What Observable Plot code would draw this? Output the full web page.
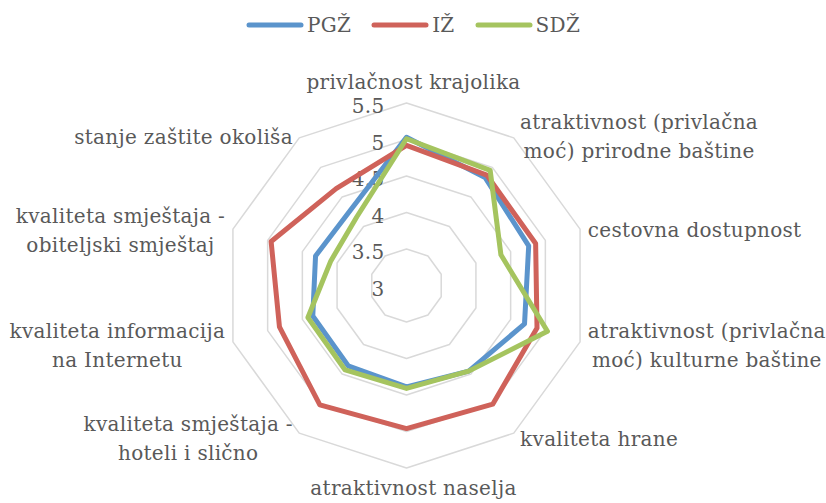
<!DOCTYPE html>
<html><head><meta charset="utf-8">
<script src="https://cdn.jsdelivr.net/npm/d3@7"></script>
<script src="https://cdn.jsdelivr.net/npm/@observablehq/plot@0.6"></script>
<style>
body{margin:0;background:#fff;}
#legend{height:50px;display:flex;justify-content:center;align-items:center;font-family:"DejaVu Serif",serif;font-size:20px;letter-spacing:0.3px;color:#595959;}
#legend .item{display:flex;align-items:center;margin:0 10px;}
#legend svg{margin-right:3px;}
#chart svg{display:block;}
</style></head><body>
<div id="legend"></div>
<div id="chart"></div>
<script>
const categories = [
  "privlačnost krajolika",
  "atraktivnost (privlačna\nmoć) prirodne baštine",
  "cestovna dostupnost",
  "atraktivnost (privlačna\nmoć) kulturne baštine",
  "kvaliteta hrane",
  "atraktivnost naselja",
  "kvaliteta smještaja -\nhoteli i slično",
  "kvaliteta informacija\nna Internetu",
  "kvaliteta smještaja -\nobiteljski smještaj",
  "stanje zaštite okoliša"
];
const seriesNames = ["PGŽ", "IŽ", "SDŽ"];
const valuesPGZ = [5.03, 4.83, 4.76, 4.70, 4.45, 4.39, 4.36, 4.35, 4.31, 4.29];
const valuesIZ  = [4.92, 4.87, 4.86, 4.88, 5.01, 4.96, 5.02, 4.83, 4.95, 4.64];
const valuesSDZ = [5.01, 4.95, 4.36, 5.03, 4.45, 4.41, 4.43, 4.42, 4.09, 4.16];
const tickValues = [3, 3.5, 4, 4.5, 5, 5.5];
const seriesColors = ["#5b94cc", "#cf625a", "#a5c45f"];

// layout
const W = 826, H = 453, PX = 73, CX = 406, CY = 235;
const rMin = 3, rMax = 5.5;
const FONT = '"DejaVu Serif", serif';
const FS = 20, LS = 0.3;
const TXT = "#595959";

const n = categories.length;
const ang = i => i * 2 * Math.PI / n;
const px = (i, v) => (v - rMin) * Math.sin(ang(i));
const py = (i, v) => (v - rMin) * Math.cos(ang(i));

const allValues = [valuesPGZ, valuesIZ, valuesSDZ];
const rows = seriesNames.flatMap((s, k) => categories.map((c, i) => ({series: s, i, value: allValues[k][i]})));
const rings = tickValues.filter(t => t > rMin).flatMap(t => categories.map((c, i) => ({ring: t, i})));

// measure label widths
const ctx = document.createElement("canvas").getContext("2d");
ctx.font = `${FS}px ${FONT}`;
const halfW = s => d3.max(s.split("\n"), l => ctx.measureText(l).width + LS * l.length) / 2;
const labelR = (rMax - rMin) + 4 / PX;
const pad = 4 / PX;
const side = i => { const s = Math.sin(ang(i)); return s > 0.01 ? 1 : s < -0.01 ? -1 : 0; };
const lx = (d, i) => labelR * Math.sin(ang(i)) + side(i) * (pad + halfW(d) / PX);
const ly = (d, i) => labelR * Math.cos(ang(i));
const isTop = (d, i) => side(i) === 0 && Math.cos(ang(i)) > 0;
const isBottom = (d, i) => side(i) === 0 && Math.cos(ang(i)) < 0;
const isSide = (d, i) => side(i) !== 0;

const chart = Plot.plot({
  width: W, height: H,
  margin: 0,
  x: {domain: [-CX / PX, (W - CX) / PX], axis: null},
  y: {domain: [-(H - CY) / PX, CY / PX], axis: null},
  color: {domain: seriesNames, range: seriesColors},
  style: {fontFamily: FONT, background: "#fff", letterSpacing: LS + "px"},
  marks: [
    Plot.line(rings, {x: d => px(d.i, d.ring), y: d => py(d.i, d.ring), z: "ring", stroke: "#d9d9d9", strokeWidth: 1.5, curve: "linear-closed"}),
    Plot.text(tickValues, {x: 0, y: d => d - rMin, text: d => String(d), textAnchor: "end", dx: -22, dy: 4, fontSize: FS, fill: TXT}),
    Plot.text(categories, {filter: isSide, x: lx, y: ly, text: d => d, textAnchor: "middle", lineAnchor: "middle", fontSize: FS, fill: TXT, lineHeight: 1.45}),
    Plot.text(categories, {filter: isTop, x: lx, y: ly, text: d => d, textAnchor: "middle", lineAnchor: "bottom", dx: 7, dy: -10, fontSize: FS, fill: TXT}),
    Plot.text(categories, {filter: isBottom, x: lx, y: ly, text: d => d, textAnchor: "middle", lineAnchor: "top", dx: 7, dy: 9, fontSize: FS, fill: TXT}),
    Plot.line(rows, {x: d => px(d.i, d.value), y: d => py(d.i, d.value), z: "series", stroke: "series", strokeWidth: 5, curve: "linear-closed", strokeLinejoin: "round"})
  ]
});
document.getElementById("chart").appendChild(chart);

// legend
const leg = d3.select("#legend");
seriesNames.forEach((s, k) => {
  const it = leg.append("div").attr("class", "item");
  const sv = it.append("svg").attr("width", 58).attr("height", 10);
  sv.append("line").attr("x1", 3).attr("x2", 55).attr("y1", 5).attr("y2", 5)
    .attr("stroke", seriesColors[k]).attr("stroke-width", 5).attr("stroke-linecap", "round");
  it.append("span").text(s);
});
</script>
</body></html>
